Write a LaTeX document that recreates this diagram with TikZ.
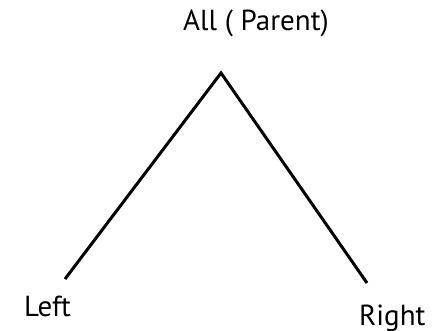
\documentclass[tikz,border=0pt]{standalone}
\usepackage{fontspec}
\setmainfont{PT Sans}
\begin{document}
\begin{tikzpicture}[x=1pt,y=1pt,
  lbl/.style={inner sep=0pt,anchor=base west,font=\fontsize{29}{32}\selectfont},
  edge/.style={line width=3pt}]
\useasboundingbox (0,0) rectangle (436,330);
\node[lbl] (parent) at (183,299) {All ( Parent)};
\node[lbl] (left) at (24,14) {Left};
\node[lbl] (right) at (359,4.5) {Right};
\coordinate (apex) at (221,257);
\coordinate (lend) at (65,51);
\coordinate (rend) at (367,47);
\draw[edge] (lend) -- (apex) -- (rend);
\end{tikzpicture}
\end{document}
